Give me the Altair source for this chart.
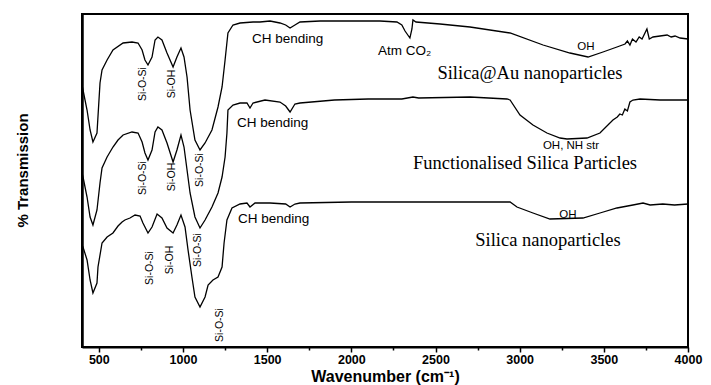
import altair as alt
import pandas as pd

# ---- Spectra (wavenumber in cm^-1, transmission in arbitrary offset units) ----
au_wn = [400, 406, 430, 448, 465, 489, 507, 519, 549, 584, 644, 697, 733, 757, 774, 792, 816, 834, 851, 875,
         905, 941, 964, 988, 1006, 1024, 1042, 1071, 1101, 1131, 1172, 1208, 1232, 1250, 1267, 1297, 1339,
         1416, 1457, 1517, 1576, 1610, 1636, 1665, 1695, 1814, 1992, 2170, 2271, 2300, 2319, 2348, 2360,
         2366, 2384, 2527, 2705, 2943, 3139, 3299, 3406, 3495, 3578, 3626, 3640, 3655, 3670, 3691, 3710,
         3727, 3756, 3770, 3792, 3834, 3876, 3900, 3923, 3953, 4000]
au_t = [262, 257, 237, 217, 205, 214, 264, 277, 287, 297, 304, 305, 304, 297, 287, 282, 290, 307, 310, 307,
        294, 280, 290, 299, 290, 270, 237, 207, 197, 204, 217, 240, 260, 287, 314, 322, 324,
        325, 325, 326, 324, 322, 319, 322, 325, 326, 326, 326, 325, 322, 316, 309, 318,
        327, 325, 323, 320, 314, 302, 294, 290, 295, 300, 303, 306, 302, 308, 305, 310,
        308, 318, 308, 310, 311, 312, 310, 311, 309, 308]

fn_wn = [400, 406, 430, 448, 465, 489, 507, 519, 549, 584, 614, 644, 697, 733, 757, 774, 792, 816, 834, 851,
         875, 905, 941, 964, 988, 1006, 1024, 1042, 1071, 1101, 1131, 1172, 1208, 1232, 1250, 1261, 1267,
         1297, 1339, 1380, 1398, 1416, 1487, 1576, 1610, 1636, 1665, 1695, 1900, 2100, 2300, 2366, 2400,
         2705, 2925, 2943, 3002, 3079, 3162, 3240, 3281, 3400, 3477, 3554, 3580, 3595, 3610, 3625, 3640,
         3655, 3673, 3715, 3834, 4000]
fn_t = [174, 170, 150, 130, 122, 137, 164, 179, 190, 200, 207, 212, 215, 214, 205, 194, 187, 197, 215, 220,
        217, 204, 185, 197, 212, 200, 177, 154, 130, 119, 127, 140, 154, 170, 190, 214, 237,
        242, 244, 244, 239, 244, 247, 245, 241, 235, 243, 244, 247, 248, 248, 250, 249,
        250, 248, 247, 232, 222, 214, 209, 208, 209, 214, 227, 230, 233, 232, 238, 236,
        245, 247, 248, 247, 247]

si_wn = [400, 406, 430, 448, 465, 489, 495, 519, 549, 584, 614, 638, 655, 685, 715, 745, 762, 792, 816, 846,
         875, 905, 941, 964, 988, 1012, 1030, 1053, 1071, 1101, 1131, 1149, 1178, 1208, 1232, 1244, 1261,
         1291, 1339, 1380, 1398, 1428, 1517, 1610, 1636, 1665, 1695, 2000, 2500, 2943, 2984, 3079, 3180,
         3376, 3477, 3578, 3673, 3733, 3775, 3850, 3920, 4000]
si_t = [102, 100, 87, 67, 54, 64, 80, 104, 110, 114, 121, 125, 127, 129, 132, 131, 124, 114, 120, 133,
        129, 119, 114, 122, 132, 120, 97, 70, 50, 40, 50, 62, 67, 70, 80, 104, 127,
        139, 143, 144, 140, 144, 144, 143, 140, 143, 144, 145, 145, 145, 140, 134, 128,
        129, 134, 139, 142, 144, 142, 143, 142, 143]

series_names = ["Silica@Au nanoparticles", "Functionalised Silica Particles", "Silica nanoparticles"]

# ---- Annotations ----
rot_labels = ["Si-O-Si", "Si-OH", "Si-O-Si", "Si-OH", "Si-O-Si", "Si-O-Si", "Si-OH", "Si-O-Si", "Si-O-Si"]
rot_wn = [762, 935, 762, 935, 1101, 804, 923, 1089, 1220]
rot_t = [263, 263, 169, 170, 177, 79, 87, 97, 22]

sans_labels = ["CH bending", "CH bending", "CH bending", "Atm CO\u2082"]
sans_wn = [1410, 1321, 1327, 2158]
sans_t = [308, 224, 128, 296]

oh_labels = ["OH", "OH, NH str", "OH"]
oh_wn = [3394, 3305, 3287]
oh_t = [300, 201, 132]

serif_labels = ["Silica@Au nanoparticles", "Functionalised Silica Particles", "Silica nanoparticles"]
serif_wn = [3061, 3032, 3168]
serif_t = [274, 184, 107]

x_ticks = list(range(500, 4001, 250))

rows = []
for name, wn, t in zip(series_names, [au_wn, fn_wn, si_wn], [au_t, fn_t, si_t]):
    for a, b in zip(wn, t):
        rows.append({"series": name, "wavenumber": a, "T": b})
spec = pd.DataFrame(rows)

rot_df = pd.DataFrame({"label": rot_labels, "wavenumber": rot_wn, "T": rot_t})
sans_df = pd.DataFrame({"label": sans_labels, "wavenumber": sans_wn, "T": sans_t})
oh_df = pd.DataFrame({"label": oh_labels, "wavenumber": oh_wn, "T": oh_t})
serif_df = pd.DataFrame({"label": serif_labels, "wavenumber": serif_wn, "T": serif_t})

xscale = alt.Scale(domain=[400, 4000], nice=False, zero=False)
yscale = alt.Scale(domain=[0, 333], nice=False, zero=False)

x_axis = alt.Axis(
    values=x_ticks,
    labelExpr="datum.value % 500 === 0 ? format(datum.value, 'd') : ''",
    grid=False, domainColor="black", domainWidth=2,
    tickColor="black", tickWidth=1.5,
    tickSize={"condition": {"test": "datum.value % 500 === 0", "value": 5}, "value": 3},
    labelFont="Liberation Sans", labelFontWeight="bold", labelFontSize=12.5, labelColor="black",
    labelPadding=1, labelFlush=False, labelOverlap=False,
    title="Wavenumber (cm\u207b\u00b9)", titleFont="Liberation Sans", titleFontWeight="bold",
    titleFontSize=16, titleColor="black", titleBaseline="alphabetic", titleY=34,
)
y_axis = alt.Axis(
    labels=False, ticks=False, grid=False, domainColor="black", domainWidth=2.5,
    title="% Transmission", titleFont="Liberation Sans", titleFontWeight="bold",
    titleFontSize=15, titleColor="black", titleAngle=270, titleAlign="center",
    titleBaseline="middle", titleX=-60, titleY=156,
)

lines = alt.Chart(spec).mark_line(color="black", strokeWidth=1.3).encode(
    x=alt.X("wavenumber:Q", scale=xscale, axis=x_axis),
    y=alt.Y("T:Q", scale=yscale, axis=y_axis),
    detail="series:N",
)

rot_text = alt.Chart(rot_df).mark_text(
    angle=270, font="Liberation Sans", fontSize=10.5, color="black", align="center", baseline="middle"
).encode(x=alt.X("wavenumber:Q", scale=xscale), y=alt.Y("T:Q", scale=yscale), text="label:N")

sans_text = alt.Chart(sans_df).mark_text(
    font="Liberation Sans", fontSize=13.5, color="black", align="left", baseline="middle"
).encode(x=alt.X("wavenumber:Q", scale=xscale), y=alt.Y("T:Q", scale=yscale), text="label:N")

oh_text = alt.Chart(oh_df).mark_text(
    font="Liberation Sans", fontSize=11.5, color="black", align="center", baseline="middle"
).encode(x=alt.X("wavenumber:Q", scale=xscale), y=alt.Y("T:Q", scale=yscale), text="label:N")

serif_text = alt.Chart(serif_df).mark_text(
    font="Liberation Serif", fontSize=18.5, color="black", align="center", baseline="middle"
).encode(x=alt.X("wavenumber:Q", scale=xscale), y=alt.Y("T:Q", scale=yscale), text="label:N")

chart = alt.layer(lines, rot_text, sans_text, oh_text, serif_text).properties(
    width=606, height=333,
    autosize=alt.AutoSizeParams(type="none"),
    padding={"left": 74, "top": 6, "right": 15, "bottom": 38},
    background="white",
).configure_view(stroke="black", strokeWidth=2)

chart.save("out.html", embed_options={"renderer": "svg", "actions": False})
